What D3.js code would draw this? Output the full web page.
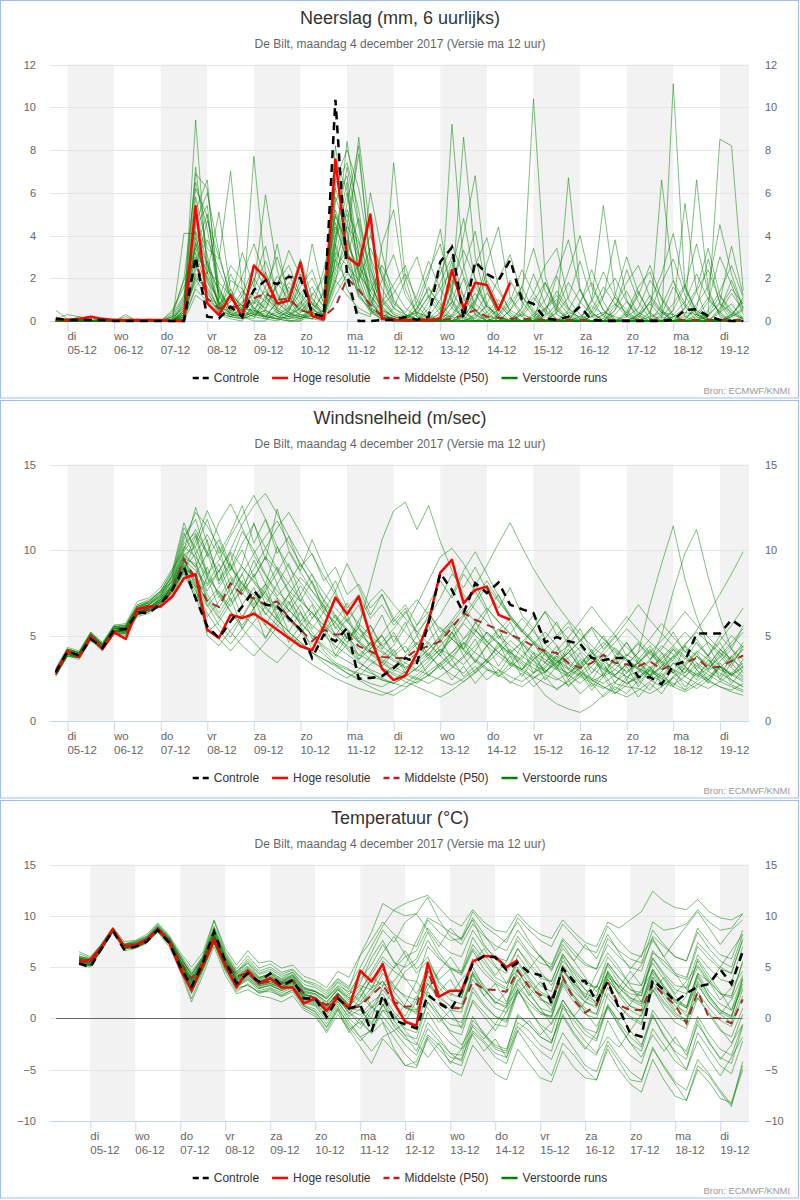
<!DOCTYPE html>
<html>
<head>
<meta charset="utf-8">
<title>Pluimen De Bilt</title>
<script src="https://cdn.jsdelivr.net/npm/d3@7"></script>
<style>
  body { margin: 0; background: #fff; }
  svg { display: block; font-family: "Liberation Sans", Arial, sans-serif; }
</style>
</head>
<body>
<div id="chart"></div>
<script>

/**
 * Day labels on the x axis (one tick per day, 05-12 .. 19-12)
 */
var dayNames = ['di', 'wo', 'do', 'vr', 'za', 'zo', 'ma', 'di', 'wo', 'do', 'vr', 'za', 'zo', 'ma', 'di'];
var dayDates = ['05-12', '06-12', '07-12', '08-12', '09-12', '10-12', '11-12', '12-12', '13-12', '14-12', '15-12', '16-12', '17-12', '18-12', '19-12'];

/**
 * Time of every 6-hourly value, in days after 05-12 00:00
 */
var stepDays = d3.range(60).map(function(k) { return -0.25 + k * 0.25; });

var legendLabels = ['Controle', 'Hoge resolutie', 'Middelste (P50)', 'Verstoorde runs'];

// ---- Neerslag (mm, 6 uurlijks) ----
var precipControl = [0.1,0.05,0.05,0.05,0.05,0,0,0,0,0,0,0, 3.0,0.2,0.12,0.67,0.2,1.45,1.9,1.73,2.07,2.0,0.36,0.2, 10.35,2.1,0,0,0.05,
    0.05,0.2,0.05,0.2,2.77,3.44,0.12,2.77,2.2,1.9,2.85, 1.0,0.8,0.12,0.05,0.2,0.67,0.05,0,0,0, 0,0,0,0.05,0.51,0.55,0.23,0.05,0,0];
var precipHres = [0.1,0.05,0.1,0.2,0.1,0.05,0.05,0.05,0.05,0.05,0,0, 5.37,0.82,0.28,1.21,0.17,2.6,2.0,0.82,0.95,2.74,0.23,0.08,
    7.55,3.0,2.6,4.98,0.1, 0.05,0.05,0.05,0.05,0.1,2.38,0.59,1.79,1.68,0.51,1.79];
var precipMedian = [0.05,0.05,0.05,0.05,0.05,0,0,0,0,0,0,0.05, 2.8,1.06,0.6,0.67,0.67,1.06,1.29,0.98,1.06,0.51,0.36,0.2, 0.67,2.0,1.45,0.75,0.2,
    0.1,0.05,0.05,0.05,0.05,0.1,0.28,0.51,0.2,0.15,0.1, 0.1,0.08,0.05,0.05,0.05,0.05,0.05,0.05,0.05,0.05, 0.05,0.05,0.05,0.05,0.05,0.05,0.05,0.05,0.05,0.05];
var precipRuns = [
    [.1,0,.2,0,0,0,0,0,0,0, 0,.5,9.4,2.1,.8,1.2,.4,2.0,1.1,.6, .3,.9,.2,.1,5.6,6.8,3.1,1.4,.6,.2, 0,0,.4,1.8,3.0,1.1,.3,0,0,.5, 1.2,.4,0,0,.2,0,0,.3,1.1,.5, 0,0,.2,.8,1.7,.4,0,0,.2,.6],
    [.5,.1,0,0,0,0,0,0,0,0, .2,1.1,6.9,6.2,1.5,.5,.8,1.9,3.5,1.2, .4,.2,.6,.1,3.4,8.4,4.6,2.2,1.0,.3, .1,0,0,.2,.9,2.5,4.2,1.4,.3,0, 0,.2,.6,1.0,.3,0,0,0,0,.4, 1.6,2.3,.5,0,0,0,.3,1.2,.5,.1],
    [.1,.3,.2,.1,0,0,.2,0,0,0, 0,4.1,4.1,1.3,.6,2.2,1.1,.3,.5,1.8, 2.6,1.2,.4,.2,1.8,4.5,7.8,2.9,.7,.1, 0,.3,1.2,.5,0,0,0,.2,.8,.2, 0,0,.3,2.1,.6,.1,0,0,.5,1.4, .3,0,0,0,.1,.6,2.9,.8,0,0],
    [0,.1,0,0,0,0,0,.1,0,0, 0,.3,5.8,3.4,2.9,7.0,1.5,.6,.2,.4, 1.2,2.9,1.1,.2,6.4,7.4,5.2,1.9,.4,7.4, 2.0,.2,0,0,0,.5,1.3,.4,0,0, .3,.1,0,0,0,.8,2.4,.9,0,0, 0,.2,.4,.3,0,0,0,0,.3,1.0],
    [0,0,.1,0,.1,0,0,0,0,0, .1,1.0,3.4,5.0,1.2,.3,.2,7.7,2.2,.5, .2,.1,.3,1.4,2.5,3.3,8.6,4.1,2.0,.6, .2,0,0,0,1.3,8.6,3.0,.8,.1,0, 0,0,0,0,.5,1.5,.4,0,0,0, 0,0,6.6,1.9,.2,0,0,.4,.8,.1],
    [0,0,0,.2,0,0,0,0,0,0, 0,.6,7.2,2.8,.5,.9,3.2,1.6,5.9,2.4, .6,.3,.1,0,1.2,2.2,1.8,6.0,3.2,.9, .3,0,0,.1,9.2,2.6,.5,0,.6,1.9, .9,.2,0,0,0,0,.2,1.1,3.8,1.0, 0,0,0,0,.2,.5,.1,0,0,0],
    [0,0,0,0,0,.1,0,0,0,0, 0,.2,4.6,6.0,3.2,1.0,.5,.3,.9,3.6, 1.0,.2,.1,.5,3.6,1.5,.4,.2,3.6,5.2, 1.5,.3,0,0,.2,1.0,.5,0,0,0, .6,10.4,2.1,.3,0,0,0,0,0,0, .1,.9,.4,0,0,0,.2,.9,3.5,1.2],
    [0,0,.1,0,0,0,.3,0,0,0, 0,.4,2.1,1.4,.3,.1,0,.8,2.3,.9, .3,.6,3.6,1.2,8.2,4.0,1.6,.5,.2,0, 0,.6,2.1,4.3,1.0,0,0,0,0,0, 0,0,0,.4,6.7,1.5,.2,0,0,0, 0,0,.3,1.6,.7,0,0,0,0,0],
    [0,0,0,0,0,0,0,0,.1,0, .5,1.6,3.0,2.4,1.8,1.2,.7,.4,.2,.1, .5,1.3,2.0,.9,7.5,6.1,2.3,.8,.3,.1, 0,0,0,0,1.4,4.0,6.8,1.6,.2,0, 0,0,.6,1.2,.5,0,0,0,0,.2, 1.4,.3,0,11.1,1.6,.3,0,0,0,0],
    [0,.1,0,0,0,0,0,0,0,0, 0,.8,6.2,4.9,1.6,.4,.2,.1,1.2,.4, 0,0,.6,2.4,4.9,3.6,2.5,1.8,.5,.2, .1,.4,.2,0,0,0,.8,2.7,4.4,1.1, .2,0,0,0,0,0,1.0,5.4,1.3,.2, 0,0,0,0,0,.3,1.1,.4,0,0],
    [.2,0,0,0,0,0,0,0,0,0, 0,.1,1.5,.9,.4,1.9,1.5,.6,.2,.9, 2.2,1.0,.3,.1,6.6,8.0,6.2,3.0,1.5,.6, .3,.1,0,0,0,.2,0,0,0,0, 0,0,0,0,.4,.2,0,0,0,0, 0,0,0,.5,5.5,1.4,0,0,0,.2],
    [0,0,0,0,0,0,0,0,0,0, .3,1.2,4.4,5.4,.8,.2,.1,.3,.5,.2, .1,.4,.8,.2,2.8,4.4,3.7,1.0,.1,0, 0,0,.9,2.6,.8,.1,0,0,0,0, 0,0,1.8,.6,0,0,0,0,0,0, 0,0,0,0,.6,6.6,1.5,.2,0,0],
    [0,0,0,0,0,0,0,0,0,0, 0,.2,3.9,2.2,5.1,1.4,.2,0,0,.6, 1.6,.8,.2,0,3.0,5.5,8.2,2.6,.3,0, 0,0,0,0,0,0,.3,1.3,.5,0, 0,0,0,0,0,0,0,0,.5,2.4, .9,.1,0,0,0,.2,.9,3.0,1.7,.3],
    [.1,0,0,0,0,0,0,0,0,0, 0,.5,5.2,6.6,.9,.5,1.4,.5,.1,0, .3,.2,.1,.4,1.9,1.2,.6,.3,.9,1.7, 2.6,.7,.1,0,.6,2.0,.3,0,0,0, 0,0,0,0,0,0,0,0,0,0, 0,0,0,0,0,.1,.4,8.5,8.2,1.4],
    [0,0,0,0,0,0,0,0,0,0, 0,.3,2.6,1.1,.5,.3,.9,1.2,.5,.2, .4,1.9,1.0,.5,5.0,3.2,2.4,1.2,.5,.2, .1,0,0,0,0,0,0,.4,1.0,.3, 0,0,0,0,0,.9,1.8,.5,0,0, 0,0,0,0,0,0,0,.5,1.9,.6],
    [0,0,0,0,0,0,0,0,0,0, .2,2.0,6.5,4.3,1.2,.3,.1,.5,.2,.1, 0,0,.3,.5,4.1,7.2,4.4,1.1,.2,0, 0,0,.2,1.0,2.8,.6,0,0,.2,.8, 1.6,.5,0,0,0,0,0,0,0,0, .3,.8,.2,0,0,0,0,0,0,0],
    [0,0,.1,0,0,0,0,0,0,0, 0,.4,4.9,2.6,.7,1.5,.5,.2,.1,.3, .6,2.2,.8,.3,3.9,6.5,2.0,.5,0,0, .2,.5,1.6,.6,.1,0,0,0,.3,1.1, .4,0,0,0,0,0,0,0,0,0, 0,0,0,0,0,0,0,0,.3,.9],
    [0,0,0,0,0,0,0,0,0,0, 0,.1,2.2,1.6,.6,.2,.4,.9,.4,.2, .1,.2,.5,.3,4.6,2.8,1.1,.6,.2,.1, 0,0,0,.2,.9,.4,0,0,0,0, .6,2.2,.8,0,0,0,0,0,.3,.9, .2,0,0,0,0,0,0,0,0,0],
    [0,0,0,0,0,0,0,0,0,0, 0,.1,3.7,1.9,.4,.2,.6,.5,.3,.1, 0,.1,.4,.2,5.8,4.2,1.7,.6,.3,.1, 0,0,0,0,0,0,0,0,0,0, 0,0,0,0,0,0,0,0,0,0, 0,0,0,0,0,0,0,0,0,0],
    [0,0,0,0,0,0,0,0,0,0, 0,0,1.2,.8,.3,.2,.1,.3,.2,.1, .2,.3,.2,.1,1.6,2.4,1.3,.4,.1,0, 0,0,.1,.3,.2,0,0,0,0,0, 0,0,0,0,0,0,.2,.4,.2,0, 0,0,0,.2,.4,.3,.1,0,0,0],
    [0,0,0,0,0,0,0,0,0,0, .1,.7,2.9,3.8,2.4,1.1,.6,1.5,2.8,1.3, .5,1.6,2.4,.8,3.2,2.6,1.9,3.4,2.1,.8, .4,1.2,2.8,1.5,.6,.2,1.0,2.2,1.4,.5, .2,.9,1.8,.7,.1,0,.5,1.6,.8,.2, .6,1.9,1.1,.3,.9,2.2,1.0,.4,1.3,.5],
    [0,0,0,0,0,0,0,0,0,0, 0,.4,3.6,1.8,1.0,2.6,1.9,.8,1.4,.7, 1.1,.4,1.2,2.0,4.4,3.0,1.4,.8,1.9,3.1, 1.2,.4,.1,.6,1.7,3.3,2.0,.7,.2,0, .4,1.3,2.6,3.4,1.0,.3,0,0,.7,1.8, 2.6,1.1,.4,0,.3,1.4,2.4,.9,.2,.5],
    [0,0,0,0,.1,0,0,0,0,0, 0,.9,5.0,3.1,.7,.4,1.2,2.6,1.5,.5, .2,.8,1.6,.6,2.4,5.2,3.8,2.0,.9,.3, .1,.9,2.3,3.6,1.4,.4,.1,.8,2.0,3.1, 1.2,.3,0,.4,1.1,2.8,1.0,.2,0,0, .3,1.2,.5,.1,0,.8,1.6,4.5,2.2,.6],
    [0,0,0,0,0,0,0,0,0,0, .2,.6,1.8,2.8,1.3,.5,.2,.6,1.0,2.1, 1.4,.6,.2,.3,2.2,3.8,2.2,1.4,2.6,1.5, .6,.2,0,0,.3,1.1,2.6,3.9,1.6,.4, 0,0,.5,1.4,.6,.1,.9,2.3,1.1,.3, 0,.4,1.8,2.9,1.2,.3,0,.6,1.5,.8],
    [0,0,0,0,0,0,0,0,0,0, 0,.2,2.4,4.7,3.0,1.2,.4,.2,.8,1.6, 3.3,2.1,.8,.4,5.2,3.4,1.2,.5,.1,.6, 1.9,3.0,1.1,.3,0,0,.2,.7,.3,.9, 2.4,1.3,.5,.1,0,0,.4,1.2,2.0,.9, .4,.1,0,.5,1.6,3.6,1.3,.3,0,0],
    [0,0,0,0,0,0,0,0,0,0, 0,.3,3.2,1.5,.6,.9,2.1,3.6,2.0,.9, .4,.1,.5,1.3,6.2,4.6,2.7,1.2,.4,.1, 0,0,.6,1.5,2.4,4.8,1.9,.6,.1,0, 0,.3,1.0,2.2,3.8,1.4,.4,0,0,.3, 1.2,2.6,1.0,.2,0,0,.5,1.4,2.6,1.1],
    [0,0,0,0,0,0,0,0,0,0, 0,.5,4.2,2.6,1.4,.6,.3,1.0,.6,1.8, 1.0,.5,.9,.4,2.9,1.8,2.6,4.0,2.3,1.0, .3,.1,0,.4,1.9,1.2,.5,.1,0,.5, 1.6,3.4,1.4,.5,.1,0,0,.3,.8,.4, 0,0,.7,1.9,.8,.2,0,0,.2,1.1],
    [0,0,0,0,0,0,0,0,0,0, 0,.2,2.0,1.0,.5,1.3,.7,.3,.2,.9, 1.8,1.3,.6,.2,3.6,6.0,3.2,1.6,.7,1.3, 2.2,1.0,.3,0,0,.2,.9,1.9,.8,.2, 0,0,0,.6,1.8,.9,.3,.1,1.2,3.0, 1.3,.4,0,0,0,0,.3,.8,.4,.1],
    [0,0,0,0,0,0,0,0,0,0, .4,1.9,3.4,2.0,.9,.3,.5,1.4,.9,.4, .2,.6,1.3,.7,4.0,5.0,3.0,.9,.2,0, .1,.6,1.5,.8,.2,.6,1.6,.7,.2,0, .3,1.1,.4,0,0,.2,.7,.3,0,0, .2,.9,2.2,4.1,1.5,.5,.1,0,0,0],
    [0,0,0,0,0,0,0,0,0,0, 0,.1,1.6,2.3,.8,.3,.2,.4,1.6,3.0, 1.2,.5,.3,.2,2.0,3.1,4.8,2.4,1.1,.4, .2,.4,1.1,2.2,3.6,2.1,.8,.3,0,0, 0,0,.2,.8,2.3,4.0,1.6,.5,.1,0, 0,0,0,.2,.6,1.5,3.4,1.2,.3,.1]
];

// ---- Windsnelheid (m/sec) ----
var windControl = [2.85,4.08,3.83,4.8,4.27,5.34,5.38,6.35,6.31,6.85,7.67,8.99, 7.18,5.53,4.85,5.83,6.7,7.63,6.8,6.7,6.02,5.34,
    3.69,5.05,4.66,5.44,2.47,2.52,2.62,3.1, 3.69,3.4,5.73,8.64,7.67,6.31,8.06,7.48,8.1,6.8,
    6.54,6.31,4.6,4.91,4.66,4.52,3.69,3.55,3.69,3.69, 2.58,2.56,2.14,3.24,3.5,5.11,5.11,5.11,5.92,5.44];
var windHres = [2.78,4.08,3.75,4.95,4.21,5.18,4.8,6.54,6.7,6.7,7.28,8.35, 8.58,5.34,4.85,6.21,6.02,6.27,5.83,5.34,4.85,4.37,
    4.14,5.53,7.22,6.25,7.28,4.95,3.05,2.39, 2.66,3.98,5.83,8.68,9.42,6.89,7.67,7.86,6.21,5.92];
var windMedian = [2.97,4.0,3.8,4.85,4.33,5.24,5.34,6.31,6.5,6.7,7.67,9.46, 8.29,6.99,6.66,8.06,7.38,7.18,6.8,6.99,6.02,5.34,
    4.66,5.34,5.05,5.11,4.37,4.08,3.75,3.69, 3.69,4.17,4.37,4.66,5.44,6.31,5.92,5.63,5.34,5.05,
    4.76,4.37,4.08,3.98,3.4,3.11,3.4,3.88,3.4,3.3, 3.2,3.5,3.01,3.3,3.4,3.69,3.11,3.17,3.5,3.83];
var windRuns = [
    [2.9,4.1,3.9,5.0,4.4,5.5,5.6,6.8,7.1,7.6,8.4,10.4, 11.0,8.6,9.4,10.8,12.0,13.2,11.8,10.2,9.0,8.1, 7.2,6.3,5.8,6.9,5.4,4.8,4.1,3.6, 3.2,2.9,3.5,4.2,3.8,3.3,4.1,5.2,4.6,3.9, 3.4,2.8,3.2,3.9,4.4,3.7,3.1,2.6,3.0,3.8, 4.5,3.9,3.3,2.8,3.4,4.1,3.6,3.0,2.7,3.2],
    [2.7,3.9,3.7,4.8,4.2,5.2,5.1,6.2,6.4,6.9,7.9,9.6, 7.8,5.2,5.8,6.9,7.6,8.4,9.6,8.8,7.5,6.4, 5.2,4.1,3.4,3.1,2.6,3.3,3.8,4.4, 5.5,6.8,8.2,9.6,10.1,9.2,8.0,6.6,5.8,5.1, 4.6,4.0,3.6,3.1,2.8,3.4,4.0,3.5,3.0,2.6, 2.9,3.6,4.4,3.9,3.2,2.7,3.3,4.1,5.0,4.3],
    [3.0,4.2,4.0,5.1,4.5,5.4,5.4,6.6,6.9,7.3,8.6,11.0, 9.4,7.0,7.8,8.9,10.4,11.5,10.1,8.9,7.6,7.0, 6.3,5.6,4.9,4.2,3.5,2.9,2.4,2.2, 2.6,3.1,3.9,4.8,5.6,6.2,5.3,4.7,4.0,3.4, 3.0,3.6,4.2,4.9,5.5,4.8,4.0,3.2,2.6,2.2, 2.5,3.0,3.6,4.3,3.7,3.0,2.4,2.0,1.8,2.2],
    [2.8,4.0,3.8,4.9,4.3,5.3,5.2,6.4,6.5,7.0,7.8,9.0, 8.4,6.8,5.6,4.9,6.1,7.3,8.0,7.2,6.5,5.8, 5.0,4.3,3.7,4.5,5.9,7.0,7.7,6.8, 6.0,5.2,4.5,3.8,3.2,2.8,3.5,4.4,5.3,6.0, 5.2,4.6,3.9,3.3,2.7,2.2,2.8,3.5,4.3,3.6, 3.0,2.4,2.0,2.6,3.3,4.0,4.6,3.8,3.1,2.5],
    [2.6,3.8,3.6,4.7,4.1,5.1,5.0,6.1,6.3,6.8,7.6,8.8, 10.5,12.3,10.8,9.1,8.0,7.4,6.6,5.9,5.2,4.6, 4.0,3.4,2.9,2.5,3.0,3.8,4.6,5.4, 6.3,7.1,6.2,5.4,4.8,4.1,3.5,3.0,2.6,3.1, 3.8,4.5,5.2,4.4,3.6,2.9,2.4,2.0,1.6,2.1, 2.8,3.5,5.0,7.6,9.8,11.2,8.4,6.1,4.2,3.2],
    [3.1,4.3,4.1,5.2,4.6,5.6,5.7,7.0,7.2,7.8,8.9,10.0, 12.5,10.4,8.2,9.3,11.1,10.0,8.6,7.3,8.1,9.2, 8.0,6.7,5.5,4.6,5.5,8.0,10.6,12.3, 12.8,11.2,12.6,10.5,8.8,7.4,6.5,5.8,5.0,4.4, 3.8,3.3,2.9,3.4,4.0,4.7,5.5,4.8,4.1,3.6, 3.1,2.7,3.2,3.8,4.5,5.2,4.6,4.0,3.5,4.2],
    [2.8,3.9,3.8,5.0,4.2,5.2,5.3,6.3,6.6,7.1,7.9,9.4, 8.1,5.0,4.4,5.3,6.2,5.6,4.9,5.8,6.8,7.9, 6.9,5.8,5.1,4.3,3.6,4.2,5.1,6.0, 5.2,4.5,3.8,3.2,2.7,2.3,2.8,3.4,4.0,4.7, 4.1,3.5,3.0,2.5,2.1,2.6,3.2,3.9,4.6,5.4, 4.7,4.0,3.4,2.8,2.3,1.9,2.4,3.1,3.8,4.4],
    [2.9,4.1,3.9,5.1,4.4,5.4,5.5,6.7,6.9,7.5,8.2,9.9, 10.9,9.8,11.6,12.7,11.3,9.7,8.5,7.6,6.9,6.2, 5.6,5.0,4.4,3.9,3.4,3.0,2.7,3.2, 3.8,4.5,5.3,6.2,7.4,8.8,9.9,8.6,7.3,6.2, 5.3,4.5,3.8,3.2,3.7,4.3,3.7,3.1,2.7,3.3, 4.0,4.8,5.7,4.9,4.1,3.4,2.9,3.5,4.2,3.6],
    [2.7,3.8,3.7,4.8,4.2,5.1,5.1,6.2,6.4,6.7,7.4,8.7, 7.4,6.1,7.0,8.1,9.0,8.2,7.4,6.6,5.9,5.2, 4.5,3.9,3.3,2.8,2.4,2.0,1.7,1.5, 1.9,2.5,3.2,4.0,4.9,5.8,6.9,7.9,7.0,6.1, 5.4,4.7,4.1,3.6,3.1,2.7,2.3,2.7,3.3,3.9, 3.4,2.9,2.5,2.1,2.6,3.2,3.9,4.7,5.6,6.6],
    [3.0,4.1,4.0,5.0,4.5,5.5,5.4,6.5,6.8,7.2,8.1,9.7, 9.0,7.4,6.3,7.4,8.6,9.8,10.8,11.7,10.4,9.2, 8.1,7.1,6.2,5.4,4.7,4.1,3.6,3.2, 2.8,2.5,2.2,2.6,3.1,3.7,4.4,5.2,4.5,3.9, 4.6,5.4,6.4,5.6,4.8,4.1,3.5,3.0,2.6,2.2, 2.6,3.1,3.7,4.4,5.2,4.5,3.8,3.2,2.7,2.3],
    [2.8,4.0,3.9,4.9,4.3,5.3,5.4,6.5,6.6,7.2,8.0,9.4, 8.8,7.9,8.8,9.9,9.0,8.1,7.2,6.5,7.4,8.4, 7.6,6.8,6.0,5.3,4.6,4.0,3.5,3.0, 2.7,2.4,2.9,3.4,4.0,4.6,4.0,3.5,3.0,2.6, 2.3,2.8,3.4,4.1,4.9,5.8,6.7,5.8,5.0,4.3, 3.7,3.1,2.6,2.2,1.8,2.3,2.9,2.5,2.1,1.8],
    [2.7,3.9,3.8,4.8,4.2,5.2,5.3,6.3,6.6,7.0,7.7,8.6, 7.2,5.6,4.8,4.1,4.9,5.8,6.7,5.9,5.2,4.6, 4.0,3.6,3.2,2.8,2.5,2.2,2.0,2.4, 2.9,3.5,4.2,5.0,5.9,6.8,7.9,9.1,10.4,11.6, 10.2,8.9,7.8,6.8,5.9,5.1,4.4,3.8,3.3,2.9, 3.4,4.0,4.7,5.5,6.4,5.6,4.9,4.2,3.6,3.1],
    [2.9,4.1,3.9,5.0,4.4,5.4,5.4,6.6,6.8,7.4,8.3,10.2, 9.6,8.4,7.5,6.7,7.8,8.9,10.1,11.3,12.2,11.0, 9.7,8.5,7.4,6.5,5.7,5.0,4.4,3.8, 3.4,3.0,2.7,2.4,2.1,2.5,3.0,3.6,4.3,5.1, 6.0,5.2,4.5,3.9,3.4,2.9,2.5,2.2,2.7,3.3, 4.0,6.8,9.2,11.4,8.3,6.1,4.4,3.2,2.7,3.1],
    [2.8,4.0,3.8,4.9,4.3,5.2,5.3,6.4,6.7,7.1,7.8,9.1, 8.0,6.7,7.6,6.4,5.4,4.6,3.9,3.4,4.2,5.1, 6.0,7.0,6.1,5.3,4.6,3.9,3.4,2.9, 3.4,4.0,4.7,5.5,4.8,4.2,3.6,3.1,2.7,2.3, 2.0,2.5,3.1,3.8,3.3,2.8,2.4,2.0,1.7,1.4, 1.8,2.3,2.9,3.6,4.4,5.3,6.3,7.4,8.6,9.9],
    [2.9,4.2,4.0,5.1,4.5,5.5,5.5,6.6,7.0,7.5,8.5,10.6, 12.2,11.4,10.2,9.0,8.0,7.1,6.3,5.6,5.0,4.5, 4.0,3.6,3.3,3.0,2.8,2.6,2.4,2.2, 2.0,2.3,2.7,3.2,3.8,4.5,5.3,4.6,4.0,3.5, 3.0,2.6,2.2,1.9,2.3,2.8,3.4,4.1,4.9,5.8, 6.8,5.9,5.1,4.4,3.8,3.2,2.7,2.3,2.0,1.7],
    [2.7,3.9,3.7,4.8,4.2,5.1,5.2,6.2,6.5,6.9,7.6,8.9, 9.8,10.9,9.6,8.5,7.5,6.6,7.6,8.7,9.9,8.7, 7.6,6.6,5.7,4.9,4.2,3.6,3.1,2.7, 2.3,2.0,1.7,1.4,1.8,2.3,2.9,3.6,4.4,3.8, 3.3,2.4,1.5,1.0,0.7,0.5,0.9,1.5,2.2,2.0, 1.9,1.6,2.0,2.5,3.1,2.7,2.3,2.0,1.7,1.5],
    [3.0,4.2,4.0,5.2,4.5,5.6,5.6,6.7,7.0,7.6,8.7,11.3, 10.1,8.6,7.4,6.4,5.6,6.6,7.8,9.0,8.0,7.1, 6.3,5.6,5.0,4.4,3.9,3.5,3.1,2.8, 2.5,2.2,2.7,3.3,4.0,4.8,5.7,6.6,5.8,5.1, 4.5,3.9,3.4,3.0,2.6,3.1,3.7,4.4,5.2,6.1, 5.3,4.6,4.0,3.5,3.0,2.6,3.1,3.7,4.4,5.2],
    [2.8,4.0,3.8,4.9,4.3,5.3,5.3,6.4,6.6,7.0,7.8,9.3, 8.5,7.2,6.1,5.2,4.4,3.8,4.6,5.5,6.5,5.7, 5.0,4.4,3.9,3.5,3.1,2.8,2.5,2.2, 2.6,3.1,3.7,4.4,5.2,6.1,7.1,8.2,7.1,6.1, 5.3,4.6,4.0,3.5,3.0,2.6,2.2,1.9,2.3,2.8, 3.4,4.1,3.5,3.0,2.6,2.2,1.9,2.3,2.8,3.4],
    [2.9,4.1,3.9,5.0,4.4,5.4,5.5,6.6,6.8,7.3,8.2,10.1, 11.2,9.9,8.7,10.0,11.5,12.6,13.3,12.1,10.8,9.6, 8.5,7.5,6.6,5.8,5.1,4.5,4.0,3.5, 3.1,3.6,4.2,4.9,5.7,6.6,5.8,5.1,4.5,4.0, 3.5,3.1,2.7,2.4,2.8,3.3,3.9,4.6,4.0,3.5, 3.0,2.6,3.1,3.7,4.4,3.8,3.3,2.8,2.4,2.0],
    [2.7,3.9,3.7,4.8,4.2,5.2,5.2,6.3,6.5,6.9,7.7,9.0, 7.6,6.3,5.3,4.5,5.4,6.4,5.6,4.9,4.3,3.8, 3.3,2.9,2.5,2.2,1.9,1.7,1.5,1.8, 2.2,2.7,3.3,4.0,4.8,5.7,5.0,4.4,3.8,3.3, 2.9,2.5,2.9,3.4,4.0,4.7,5.5,4.8,4.2,3.6, 3.1,2.7,2.3,2.0,1.7,2.1,2.6,3.2,2.8,2.4],
    [2.8,4.0,3.9,5.0,4.4,5.3,5.4,6.5,6.7,7.1,8.0,9.8, 9.0,10.6,8.2,9.8,7.6,9.4,8.0,10.2,8.6,7.0, 8.2,6.4,7.6,5.8,6.8,5.0,6.2,4.6, 5.8,4.2,5.6,4.0,5.2,3.8,4.8,3.4,4.6,3.2, 4.4,2.8,4.0,3.0,4.6,3.2,4.2,2.6,3.8,2.4, 3.6,2.6,4.0,2.8,4.4,3.0,3.8,2.4,3.4,2.6],
    [2.9,4.1,3.8,4.9,4.3,5.4,5.3,6.4,6.6,7.2,7.9,9.3, 10.8,8.4,10.2,7.8,9.2,11.6,9.4,12.4,10.0,8.8, 10.6,9.0,7.6,9.2,7.8,6.2,7.4,5.8, 6.6,5.0,6.2,4.6,5.6,4.2,5.2,6.4,4.8,5.8, 4.4,5.4,4.0,3.2,4.2,3.0,3.8,2.8,3.6,4.6, 3.4,4.2,3.0,3.8,2.6,3.4,2.4,3.2,2.2,3.0],
    [2.7,3.9,3.7,4.8,4.2,5.2,5.2,6.3,6.5,7.0,7.8,9.1, 7.0,8.4,6.6,7.8,6.0,7.2,5.6,6.8,5.2,6.4, 4.8,5.6,4.2,5.2,3.8,4.6,3.4,4.2, 3.0,3.8,2.6,3.4,2.4,3.2,2.2,3.0,2.8,3.8, 2.6,3.6,2.4,3.2,2.0,2.8,1.8,2.6,1.6,2.4, 1.4,2.2,1.6,2.6,1.8,3.0,2.2,3.2,2.4,2.0],
    [3.0,4.2,4.0,5.1,4.5,5.5,5.5,6.7,6.9,7.4,8.5,10.8, 11.8,9.6,10.6,8.8,10.0,8.4,9.6,8.0,9.2,7.4, 8.6,7.0,8.2,6.6,7.4,6.0,6.8,5.6, 6.4,5.2,6.0,7.2,8.6,7.8,9.0,7.6,6.6,7.8, 6.2,5.4,6.4,5.0,5.8,4.6,5.4,4.2,5.0,3.8, 4.6,3.6,4.2,5.2,4.0,4.8,3.8,4.6,3.4,4.2],
    [2.8,4.0,3.8,4.9,4.3,5.3,5.2,6.4,6.6,7.1,7.7,9.2, 8.2,7.0,6.0,7.2,5.4,6.6,4.8,6.2,4.6,5.6, 4.2,5.4,3.8,5.0,3.6,4.6,3.2,4.0, 2.8,3.6,4.6,3.8,5.2,4.2,5.8,4.6,5.4,4.0, 3.6,4.6,3.4,4.4,3.0,4.0,2.8,3.8,2.6,3.4, 2.4,3.2,2.2,3.0,2.0,2.8,2.4,3.4,2.6,3.6],
    [2.9,4.1,3.9,5.0,4.4,5.4,5.5,6.6,6.8,7.3,8.2,9.7, 10.2,11.8,9.8,11.0,12.6,10.4,11.8,9.8,10.8,9.0, 9.8,8.2,9.0,7.4,8.0,6.6,7.4,6.0, 6.8,5.6,6.4,5.2,5.8,4.8,5.4,4.4,5.0,4.0, 4.6,3.6,4.2,3.4,4.0,3.2,3.8,3.0,3.6,2.8, 3.4,2.6,3.2,4.2,3.6,4.6,3.8,5.0,4.2,5.6],
    [2.7,3.8,3.7,4.8,4.2,5.1,5.1,6.2,6.4,6.8,7.5,8.8, 8.6,9.8,8.0,9.2,7.4,8.6,6.8,8.0,6.4,7.4, 6.0,6.8,5.4,6.2,4.8,5.6,4.4,5.0, 4.0,4.6,3.6,4.2,3.2,3.8,2.8,3.6,2.6,3.4, 3.0,3.8,2.8,3.6,2.4,3.2,2.0,2.8,1.8,2.6, 2.2,3.0,2.6,3.4,2.8,3.8,3.0,4.0,3.2,4.4],
    [2.8,4.0,3.8,4.9,4.3,5.3,5.3,6.4,6.6,7.0,7.9,9.5, 9.2,7.6,8.8,7.0,8.2,6.6,7.6,6.0,7.0,5.6, 6.4,5.2,5.8,4.8,5.4,4.4,5.0,4.0, 4.6,5.6,6.8,8.2,7.2,8.6,7.6,6.4,7.4,6.0, 5.2,6.2,4.8,5.8,4.4,5.4,4.0,5.0,3.8,4.6, 3.6,4.4,3.4,4.2,3.2,4.0,3.0,3.8,4.6,5.4],
    [2.9,4.2,4.0,5.1,4.5,5.5,5.6,6.8,7.0,7.6,8.8,11.6, 9.8,8.0,9.2,7.4,8.6,6.8,8.0,6.2,7.4,5.8, 6.8,5.2,6.2,4.8,5.6,4.2,5.0,3.8, 4.4,3.4,4.0,3.0,3.6,2.6,3.2,2.4,3.0,2.2, 2.8,2.0,2.6,1.8,2.4,1.6,2.2,1.4,2.0,1.6, 2.4,1.8,2.8,2.0,3.2,2.4,3.6,2.6,3.8,2.8],
    [2.7,3.9,3.7,4.8,4.2,5.2,5.3,6.3,6.5,6.9,7.6,8.9, 7.8,9.0,7.2,8.4,6.8,7.8,6.2,7.2,5.8,6.8, 5.4,6.4,5.0,6.0,4.6,5.6,4.2,5.2, 4.0,5.0,3.8,4.8,3.6,4.6,3.4,4.4,3.2,4.2, 3.0,4.0,2.8,3.8,2.6,3.6,2.4,3.4,2.2,3.2, 2.0,3.0,2.4,3.4,2.8,3.8,3.2,4.2,3.6,4.6]
];

// ---- Temperatuur (°C) ----
var tempControl = [5.37,4.98,6.83,8.55,6.73,6.99,7.48,8.62,7.38,5.04,3.09,5.37, 8.46,5.53,3.41,4.39,3.58,4.39,3.15,3.74,1.95,1.95,
    0.16,1.95,0.98,1.3,-1.3,2.28,-0.16,-0.59, -0.98,2.28,1.46,0.81,2.6,5.37,6.08,5.95,4.72,5.43,
    4.46,4.23,1.46,4.88,3.58,3.67,1.63,3.58,0.98,-1.46, -1.79,3.74,2.76,1.63,2.44,3.09,3.35,4.78,3.35,6.5];
var tempHres = [5.53,5.69,6.99,8.68,6.99,7.15,7.64,8.72,7.48,4.78,2.76,5.2, 7.64,5.2,3.02,4.65,3.41,3.9,3.02,3.02,1.46,1.95,
    0.75,2.05,0.98,4.65,3.58,5.3,1.5,-0.33, -0.72,5.37,2.11,2.7,2.7,5.53,6.08,6.02,4.98,5.69];
var tempMedian = [5.69,5.37,6.83,8.62,6.99,7.06,7.58,8.68,7.58,5.53,3.9,5.37, 7.9,5.53,4.07,4.46,3.41,3.58,3.41,3.74,2.44,1.95,
    1.3,2.28,0.88,1.2,2.28,3.25,1.6,1.14, 1.2,4.65,1.53,0.98,0.98,3.58,2.83,2.76,2.6,4.65,
    3.09,2.28,1.95,4.07,1.79,0.55,1.3,3.58,1.3,0.81, 0.81,3.41,2.28,1.3,-0.49,2.6,0.1,0,-0.49,1.85];
var tempRuns = [
    [5.9,5.6,7.0,8.8,7.2,7.3,7.8,8.9,7.8,5.9,4.4,5.8,8.6,6.0,4.6,5.4,4.0,4.4,3.9,4.5,3.0,2.6,2.1,3.5, 2.4,3.2,2.8,5.6, 4.6,3.8,3.6,7.0, 5.8,4.9,4.6,7.9, 6.2,5.0,4.4,6.8, 5.1,3.9,3.6,6.3, 4.6,3.3,3.0,5.4, 3.9,2.8,2.5,5.9, 4.4,3.2,3.0,6.2, 4.9,3.8,3.5,7.0],
    [5.4,5.2,6.7,8.5,6.8,6.9,7.4,8.5,7.3,5.0,2.8,4.8,7.4,4.8,3.0,3.2,2.6,2.6,2.2,2.8,1.2,0.6,-0.8,1.0, -0.6,-1.8,-1.2,1.4, -0.8,-2.0,-2.6,0.6, -1.2,-2.4,-3.0,0.2, -1.6,-3.0,-3.4,-0.4, -1.2,-2.6,-3.2,0.4, -1.4,-2.8,-3.6,-0.2, -2.2,-3.6,-4.4,-1.0, -2.6,-4.2,-5.0,-1.4, -3.0,-4.6,-5.4,-2.2],
    [6.3,5.9,7.3,8.9,7.5,7.6,8.2,9.3,8.1,6.4,5.0,6.4,9.6,6.8,5.2,6.6,5.4,5.6,4.9,5.2,4.1,3.7,3.0,4.6, 4.0,6.2,8.4,11.2, 10.5,10.0,10.2,11.8, 9.6,8.0,7.2,9.2, 8.0,7.1,6.6,8.6, 7.2,6.0,5.2,7.8, 6.6,5.4,4.8,7.2, 6.0,5.0,4.6,8.0, 7.0,6.0,5.6,8.8, 7.4,6.2,5.8,8.6],
    [5.5,5.1,6.6,8.4,6.6,6.8,7.3,8.4,7.0,4.6,1.6,4.2,7.0,4.2,2.4,2.8,2.2,2.0,1.6,2.2,0.8,0.2,-1.4,0.4, -1.1,-2.8,-4.4,-2.0, -3.2,-4.6,-4.8,-1.8, -3.0,-4.2,-4.6,-1.4, -2.4,-3.8,-4.4,-1.2, -2.8,-4.4,-5.6,-2.4, -3.6,-5.0,-6.0,-2.6, -4.2,-6.0,-6.2,-2.8, -4.8,-6.4,-8.0,-4.6, -5.6,-7.2,-8.6,-4.2],
    [5.9,5.7,7.0,8.7,7.1,7.3,7.7,8.8,7.7,5.6,3.8,5.7,8.3,5.8,4.0,4.8,3.8,4.2,3.5,4.1,2.6,2.4,1.6,2.9, 1.8,3.4,5.9,7.6, 5.4,5.0,5.8,8.4, 6.4,5.0,4.2,6.6, 4.8,3.6,3.0,5.4, 3.8,2.4,1.8,4.6, 3.2,2.0,1.4,4.2, 2.6,1.2,0.8,4.0, 2.8,1.6,1.0,4.4, 3.6,2.4,2.0,5.6],
    [5.2,5.0,6.7,8.5,6.9,7.0,7.5,8.6,7.4,5.0,2.8,5.0,7.7,5.1,3.3,4.0,3.1,3.4,2.9,3.4,1.8,1.5,0.4,1.8, 0.6,-0.2,-1.4,0.8, -0.6,-1.6,-2.0,1.6, 0.4,-0.6,-0.8,2.6, 1.2,0.2,-0.2,3.0, 1.8,0.6,0.0,3.4, 2.0,0.8,0.4,3.8, 2.4,1.2,0.6,2.8, 1.0,-0.4,-1.0,2.0, 0.4,-1.2,-1.8,1.0],
    [5.7,5.6,7.0,8.6,7.0,7.1,7.6,8.7,7.6,5.4,3.5,5.4,8.1,5.6,3.8,4.6,3.6,4.0,3.3,3.8,2.3,2.1,1.2,2.5, 1.3,2.1,3.8,4.8, 2.6,1.2,0.4,3.4, 1.8,0.8,0.6,4.6, 3.2,2.0,1.4,5.0, 3.4,2.0,1.2,4.8, 3.0,1.6,1.0,4.4, 2.2,0.8,0.2,3.6, 2.0,0.6,-0.2,3.2, 1.6,0.4,-0.4,2.8],
    [6.5,6.0,7.2,8.8,7.2,7.5,8.0,9.2,8.0,6.1,4.3,6.1,9.0,6.4,4.5,5.8,4.6,5.0,4.3,4.7,3.6,3.2,2.5,3.8, 2.9,6.1,7.6,9.4, 8.2,7.4,7.0,9.6, 8.4,7.6,7.8,10.4, 9.0,8.2,7.4,9.8, 8.6,7.6,7.0,9.2, 8.0,6.8,6.4,9.0, 7.6,6.4,6.0,9.4, 8.6,8.8,9.2,10.6, 9.4,8.6,8.8,10.2],
    [5.3,5.2,6.7,8.5,6.9,7.0,7.4,8.6,7.3,5.1,2.6,4.9,7.5,5.0,3.2,3.9,2.9,3.3,2.7,3.2,1.6,1.3,0.0,1.6, 0.2,0.9,-0.6,1.4, -0.2,-1.7,-3.2,-0.4, -1.8,-3.4,-4.2,-0.6, -1.6,-2.6,-3.0,0.2, -0.6,-1.8,-2.4,1.2, 0.2,-1.0,-1.4,2.4, 1.2,0.2,-0.4,3.2, 1.6,0.4,-0.2,3.6, 2.0,0.6,0.0,3.8],
    [5.6,5.5,6.9,8.6,7.0,7.2,7.6,8.7,7.5,5.3,3.1,5.2,7.9,5.4,3.6,4.4,3.4,3.7,3.2,3.6,2.1,1.8,0.8,2.2, 1.0,1.4,2.3,4.4, 3.0,2.2,1.8,5.4, 3.6,2.4,2.0,5.8, 4.4,3.4,2.8,6.2, 4.6,3.2,2.6,6.0, 4.0,2.8,2.2,5.2, 3.4,2.0,1.6,4.8, 3.2,1.8,1.2,4.4, 2.6,1.4,0.8,4.0],
    [5.9,5.7,7.0,8.7,7.1,7.2,7.8,8.9,7.7,5.7,3.9,5.8,8.5,5.9,4.1,5.0,3.9,4.4,3.6,4.2,2.8,2.6,1.9,3.0, 2.0,1.1,0.0,3.2, 3.6,5.2,7.6,9.8, 9.2,8.4,7.8,9.6, 7.2,5.8,4.8,6.8, 5.4,4.2,3.6,6.2, 4.8,3.6,3.0,6.0, 4.6,3.4,3.2,6.6, 5.2,4.2,3.8,7.0, 5.8,4.8,4.4,7.8],
    [5.4,5.3,6.8,8.5,6.8,7.0,7.5,8.5,7.3,5.0,2.4,4.8,7.4,4.8,2.8,3.3,2.5,2.9,2.3,2.8,1.2,0.7,-0.9,0.9, -1.1,-0.3,-1.5,-0.4, -3.0,-4.6,-4.2,-1.6, -2.6,-3.8,-4.0,-1.2, -2.2,-3.4,-3.8,-0.8, -2.0,-3.2,-4.0,-1.4, -3.0,-4.6,-5.2,-2.2, -3.8,-5.2,-6.0,-3.0, -4.6,-6.2,-7.0,-4.0, -5.4,-7.0,-8.4,-5.0],
    [5.8,5.6,7.0,8.7,7.1,7.2,7.7,8.8,7.7,5.5,3.6,5.6,8.2,5.7,3.9,4.9,3.9,4.1,3.5,3.9,2.5,2.3,1.4,2.8, 1.6,3.8,5.2,7.2, 5.6,3.9,2.4,4.6, 3.0,1.8,1.4,4.4, 2.8,1.6,1.0,3.8, 2.4,1.0,0.6,3.6, 2.2,1.0,0.4,4.0, 3.2,2.4,2.2,6.4, 5.6,4.4,4.0,7.4, 6.2,5.0,4.4,7.6],
    [5.5,5.4,6.8,8.5,6.9,7.0,7.5,8.6,7.4,5.2,3.0,5.1,7.8,5.3,3.4,4.2,3.2,3.5,3.0,3.5,1.9,1.6,0.6,2.0, 0.8,0.3,1.6,2.4, 0.6,-0.4,-0.8,2.6, 1.2,0.0,-0.4,3.0, 1.4,0.2,-0.4,2.8, 0.8,-0.6,-1.4,1.8, 0.2,-1.2,-2.0,1.4, -0.4,-1.8,-2.8,0.8, -0.8,-2.4,-3.2,0.2, -1.6,-3.0,-3.6,-0.6],
    [5.7,5.5,6.9,8.6,7.0,7.2,7.6,8.7,7.6,5.4,3.3,5.4,8.0,5.5,3.7,4.5,3.6,3.9,3.4,3.7,2.3,2.0,1.0,2.4, 1.2,2.8,4.3,6.0, 4.9,6.0,6.6,8.8, 7.4,6.4,6.0,8.6, 7.0,6.0,5.6,8.0, 6.4,5.4,5.0,7.6, 6.2,5.2,4.8,7.8, 6.6,5.8,5.4,8.6, 7.2,6.0,5.6,8.4, 6.8,5.6,5.0,8.2],
    [6.0,5.8,7.1,8.8,7.2,7.4,7.9,9.0,7.8,5.9,4.2,5.9,8.7,6.1,4.3,5.4,4.3,4.6,3.8,4.3,3.0,2.7,2.0,3.1, 2.2,4.6,3.0,3.6, 2.0,1.0,0.6,3.4, 2.2,1.2,1.0,4.2, 2.8,1.6,1.2,4.6, 3.0,1.8,1.4,4.8, 3.4,2.4,2.0,5.4, 4.0,2.8,2.2,5.8, 4.2,2.8,2.4,5.6, 3.8,2.4,2.2,5.4],
    [5.3,5.2,6.7,8.4,6.8,6.9,7.4,8.5,7.2,5.1,2.5,4.9,7.6,5.0,3.1,3.8,2.9,3.2,2.7,3.1,1.5,1.2,-0.2,1.4, -0.3,-1.8,-3.2,-1.8, -1.2,-2.6,-3.6,-1.0, -2.2,-3.4,-3.6,-0.2, -1.4,-2.8,-3.2,0.4, -0.6,-1.8,-2.4,1.0, -0.2,-1.6,-2.2,1.2, -0.8,-2.4,-3.2,0.4, -1.8,-3.2,-4.0,-0.2, -2.4,-3.8,-4.4,-0.8],
    [5.6,5.5,6.9,8.6,7.0,7.1,7.6,8.7,7.5,5.3,3.2,5.3,8.0,5.4,3.5,4.3,3.3,3.6,3.1,3.6,2.0,1.7,0.7,2.1, 0.9,0.8,-0.4,1.2, 2.8,4.6,5.4,7.6, 6.0,4.8,4.4,6.8, 5.4,4.0,3.4,5.6, 4.0,2.6,2.0,4.8, 3.4,2.2,1.6,4.6, 3.0,1.8,1.2,4.4, 2.6,1.2,0.6,4.0, 2.2,0.8,0.2,3.8],
    [6.1,5.8,7.2,8.8,7.3,7.5,8.0,9.1,7.9,6.2,4.6,6.0,9.5,6.5,4.8,6.1,4.9,5.3,4.5,4.8,3.7,3.4,2.7,3.9, 3.1,5.0,7.0,9.0, 10.6,11.2,11.6,12.0, 10.8,9.6,9.0,10.6, 9.4,8.6,8.4,10.2, 9.0,8.2,7.8,9.6, 8.4,7.4,7.0,9.4, 8.8,9.6,10.4,12.4, 11.4,10.8,10.6,11.6, 10.4,9.8,9.6,10.2],
    [5.4,5.2,6.7,8.5,6.9,6.9,7.4,8.5,7.3,4.9,1.9,4.6,7.3,4.6,2.6,3.4,2.4,2.8,2.1,2.6,1.0,0.4,-1.2,0.8, -1.4,0.0,1.2,-0.3, -1.9,-3.5,-4.6,-2.0, -3.6,-5.0,-5.6,-2.6, -4.0,-5.4,-6.0,-3.0, -4.4,-5.8,-6.2,-3.2, -4.8,-5.8,-6.0,-3.0, -5.0,-6.4,-7.2,-4.0, -6.0,-7.6,-8.0,-5.0, -6.2,-7.8,-8.2,-4.6],
    [5.6,5.4,6.9,8.6,7.0,7.1,7.6,8.7,7.6,5.5,3.8,5.5,8.0,5.6,4.0,4.6,3.5,3.8,3.4,3.8,2.4,2.0,1.2,2.4, 1.0,1.4,2.6,3.6, 2.0,1.0,0.8,3.8, 2.0,1.2,1.0,3.8, 2.2,1.0,0.6,3.4, 1.8,0.6,0.2,3.2, 1.6,0.4,0.0,3.0, 1.2,0.0,-0.6,2.8, 1.4,0.2,-0.4,2.6, 1.0,-0.2,-0.8,2.2],
    [5.8,5.5,7.0,8.7,7.1,7.2,7.7,8.8,7.7,5.6,3.6,5.5,8.2,5.6,3.8,4.7,3.6,3.9,3.4,3.8,2.4,2.0,1.1,2.5, 1.2,2.4,1.0,2.0, 0.2,-1.0,-1.4,1.6, 0.0,-1.2,-1.6,1.8, 0.6,-0.6,-0.8,2.6, 1.4,0.4,0.2,3.8, 2.6,1.6,1.2,4.6, 3.0,2.0,1.4,4.8, 3.0,1.8,1.0,4.2, 2.2,0.8,0.2,3.4],
    [5.6,5.3,6.9,8.6,7.0,7.1,7.6,8.7,7.5,5.4,3.4,5.3,7.9,5.4,3.7,4.4,3.2,3.4,3.0,3.5,2.0,1.7,0.8,2.2, 0.4,2.0,4.0,3.2, 5.0,6.6,4.8,6.0, 3.4,2.2,3.8,5.0, 3.0,1.4,2.6,4.2, 2.2,3.6,1.8,5.2, 3.8,2.0,4.4,6.4, 5.0,3.2,1.6,4.0, 2.4,0.8,2.2,5.8, 4.2,2.6,0.8,3.0],
    [5.8,5.6,7.0,8.7,7.1,7.2,7.7,8.8,7.6,5.6,3.7,5.6,8.2,5.8,4.2,4.8,3.7,4.0,3.6,4.0,2.7,2.4,1.6,2.8, 2.0,3.0,1.2,0.2, -1.2,-0.4,1.8,4.2, 2.6,3.8,2.0,5.4, 6.8,5.2,3.4,4.8, 2.6,1.0,-0.6,1.8, 0.2,1.6,3.2,2.0, 0.6,-1.2,0.4,2.6, 4.0,2.4,3.6,5.2, 3.6,1.8,3.0,4.6],
    [5.5,5.3,6.8,8.5,6.9,7.0,7.5,8.6,7.4,5.2,3.0,5.1,7.7,5.2,3.3,4.1,3.0,3.2,2.8,3.3,1.7,1.4,0.3,1.7, 0.0,-1.0,0.6,1.8, -0.2,1.4,3.6,2.2, 0.4,-1.4,-2.6,-0.8, -2.0,-0.6,1.2,2.8, 1.0,-0.8,-2.2,0.2, -1.6,-3.0,-1.4,1.0, -0.6,-2.4,-3.8,-1.6, -3.2,-1.8,-3.6,-0.6, -2.2,-4.0,-2.6,0.4],
    [5.9,5.6,7.1,8.7,7.2,7.3,7.8,8.9,7.8,5.8,4.0,5.7,8.4,5.9,4.3,5.1,4.0,4.3,3.7,4.2,2.9,2.6,1.9,3.2, 2.6,4.2,6.4,8.6, 7.4,9.4,10.2,8.6, 7.0,8.8,7.6,9.8, 8.2,6.6,7.8,9.4, 7.6,6.0,4.8,6.8, 5.6,7.2,5.8,8.2, 6.4,4.8,6.2,7.8, 6.0,7.6,9.0,10.4, 8.8,7.2,8.6,9.6],
    [5.4,5.2,6.7,8.5,6.9,6.9,7.4,8.5,7.3,5.1,2.7,4.9,7.5,5.0,3.1,3.7,2.7,3.0,2.5,3.0,1.3,0.9,-0.5,1.2, -0.8,-2.2,-1.0,0.8, 0.4,-1.2,-2.4,-3.8, -2.4,-4.4,-3.0,-1.6, -3.2,-2.0,-3.8,-1.2, -0.2,-1.6,-0.4,1.4, -0.8,-2.2,-3.4,-1.8, -2.8,-1.2,-2.6,0.2, -1.6,-3.4,-5.0,-2.2, -4.0,-5.6,-3.8,-1.8],
    [5.7,5.5,6.9,8.6,7.0,7.2,7.6,8.7,7.6,5.5,3.5,5.4,8.1,5.5,3.8,4.6,3.5,3.8,3.3,3.7,2.2,1.9,1.0,2.4, 1.4,2.6,4.6,6.4, 8.0,6.2,4.4,5.6, 3.8,4.8,2.8,4.4, 2.2,3.4,1.6,3.6, 4.8,6.2,4.6,7.2, 5.6,4.0,2.6,4.4, 3.0,4.6,3.2,5.4, 3.8,2.2,1.0,3.4, 1.6,0.4,1.8,4.2],
    [5.6,5.4,6.9,8.6,7.0,7.1,7.6,8.7,7.5,5.3,3.2,5.3,8.0,5.4,3.6,4.3,3.3,3.6,3.1,3.6,2.0,1.7,0.6,2.0, 0.6,-0.6,1.0,2.8, 1.4,0.2,2.2,1.0, -0.4,0.8,-1.0,1.6, 0.2,-1.2,0.6,2.4, 3.6,2.0,0.8,3.8, 2.2,0.6,-0.8,1.2, -0.2,1.4,2.8,4.6, 3.0,1.6,0.2,2.0, 0.6,-1.0,-2.4,-0.6],
    [6.0,5.8,7.1,8.8,7.2,7.4,7.9,9.0,7.9,6.0,4.2,5.9,8.8,6.2,4.4,5.6,4.4,4.8,4.1,4.5,3.3,3.0,2.3,3.6, 2.8,1.6,3.0,4.8, 3.2,2.0,0.8,2.8, 4.6,6.0,4.4,7.2, 5.8,4.2,5.6,7.6, 6.2,4.6,3.2,5.6, 4.4,2.8,1.4,3.8, 2.4,3.8,5.2,7.6, 6.0,4.4,2.8,5.0, 3.4,5.0,6.6,8.2]
];


/**
 * Draws the three stacked ensemble panels (neerslag, wind, temperatuur)
 */
var PluimCharts = function() {

    var width = 800;
    var panelHeight = 400;

    /**
     * Plot area inside every panel
     *
     * @type {Object}
     */
    var plot = {left: 50, right: 749, top: 64.5, bottom: 321};

    var colors = {
        control: '#000000',
        hres: '#ff0000',
        median: '#a52a2a',
        runs: '#008000',
        border: '#9dbdf0',
        band: '#f2f2f2',
        grid: '#e6e6e6',
        axis: '#ccd6eb'
    };

    var svg = null;

    return {

        init: function() {

            svg = d3.select('#chart').append('svg')
                .attr('width', width)
                .attr('height', 1200);

            var panels = [
                {title: 'Neerslag (mm, 6 uurlijks)', yDomain: [0, 12], yTicks: d3.range(0, 13, 2),
                    xDomain: [-0.375, 14.625], control: precipControl, hres: precipHres, median: precipMedian, runs: precipRuns},
                {title: 'Windsnelheid (m/sec)', yDomain: [0, 15], yTicks: [0, 5, 10, 15],
                    xDomain: [-0.375, 14.625], control: windControl, hres: windHres, median: windMedian, runs: windRuns},
                {title: 'Temperatuur (\u00B0C)', yDomain: [-10, 15], yTicks: [-10, -5, 0, 5, 10, 15],
                    xDomain: [-0.896, 14.64], control: tempControl, hres: tempHres, median: tempMedian, runs: tempRuns, zeroLine: true}
            ];

            panels.forEach(function(p, i) {
                this.drawPanel(p, i);
            }, this);
        },

        drawPanel: function(p, idx) {

            var g = svg.append('g').attr('transform', 'translate(0,' + (idx * panelHeight) + ')');

            g.append('rect')
                .attr('x', 0.5).attr('y', 0.5)
                .attr('width', width - 2).attr('height', panelHeight - 2.5)
                .attr('fill', '#fff')
                .attr('stroke', colors.border);

            var x = d3.scaleLinear().domain(p.xDomain).range([plot.left, plot.right]);
            var y = d3.scaleLinear().domain(p.yDomain).range([plot.bottom, plot.top]);

            // titles
            g.append('text')
                .attr('x', width / 2).attr('y', 24)
                .attr('text-anchor', 'middle')
                .attr('fill', '#333').attr('font-size', '18px')
                .text(p.title);
            g.append('text')
                .attr('x', width / 2).attr('y', 48)
                .attr('text-anchor', 'middle')
                .attr('fill', '#666').attr('font-size', '12px')
                .text('De Bilt, maandag 4 december 2017 (Versie ma 12 uur)');

            // alternating day bands
            var bandDays = d3.range(0, dayNames.length, 2);
            g.selectAll('rect.band')
                .data(bandDays)
                .enter()
                .append('rect')
                .attr('class', 'band')
                .attr('x', function(d) { return x(d); })
                .attr('y', plot.top)
                .attr('width', function(d) { return Math.min(x(d + 1), plot.right) - x(d); })
                .attr('height', plot.bottom - plot.top)
                .attr('fill', colors.band);

            // horizontal grid
            g.selectAll('line.grid')
                .data(p.yTicks)
                .enter()
                .append('line')
                .attr('class', 'grid')
                .attr('x1', plot.left).attr('x2', plot.right)
                .attr('y1', function(d) { return Math.round(y(d)) + 0.5; })
                .attr('y2', function(d) { return Math.round(y(d)) + 0.5; })
                .attr('stroke', function(d) { return d === p.yDomain[0] ? 'none' : colors.grid; });

            // y axes, left and right
            var yLeft = d3.axisLeft(y).tickValues(p.yTicks).tickSize(0).tickPadding(0);
            var yRight = d3.axisRight(y).tickValues(p.yTicks).tickSize(0).tickPadding(0);

            var gl = g.append('g').attr('transform', 'translate(36,0)').call(yLeft);
            var gr = g.append('g').attr('transform', 'translate(765,0)').call(yRight);
            [gl, gr].forEach(function(a) {
                a.select('.domain').remove();
                a.selectAll('text')
                    .attr('fill', '#666')
                    .attr('font-size', '11px')
                    .attr('font-family', '"Liberation Sans", Arial, sans-serif');
            });

            // x axis with day ticks
            var xAxis = d3.axisBottom(x)
                .tickValues(d3.range(dayNames.length))
                .tickSize(10)
                .tickFormat('');
            var ga = g.append('g')
                .attr('transform', 'translate(0,' + plot.bottom + ')')
                .call(xAxis);
            ga.select('.domain')
                .attr('d', 'M' + plot.left + ',0.5H' + plot.right)
                .attr('stroke', colors.axis);
            ga.selectAll('.tick line').attr('stroke', colors.axis);

            var labels = g.selectAll('text.day')
                .data(d3.range(dayNames.length))
                .enter()
                .append('text')
                .attr('class', 'day')
                .attr('x', function(d) { return x(d); })
                .attr('fill', '#666')
                .attr('font-size', '11.5px');
            labels.append('tspan')
                .attr('x', function(d) { return x(d); })
                .attr('y', 340)
                .text(function(d) { return dayNames[d]; });
            labels.append('tspan')
                .attr('x', function(d) { return x(d); })
                .attr('y', 354)
                .text(function(d) { return dayDates[d]; });

            // series
            var clipId = 'clip' + idx;
            g.append('clipPath').attr('id', clipId)
                .append('rect')
                .attr('x', plot.left).attr('y', plot.top - 2)
                .attr('width', plot.right - plot.left).attr('height', plot.bottom - plot.top + 4);

            var series = g.append('g').attr('clip-path', 'url(#' + clipId + ')');

            var line = d3.line()
                .defined(function(d) { return d != null; })
                .x(function(d, i) { return x(stepDays[i]); })
                .y(function(d) { return y(d); });

            if (p.zeroLine) {
                series.append('line')
                    .attr('x1', 56).attr('x2', x(stepDays[stepDays.length - 1]))
                    .attr('y1', Math.round(y(0)) + 0.5).attr('y2', Math.round(y(0)) + 0.5)
                    .attr('stroke', '#666').attr('stroke-width', 1);
            }

            series.selectAll('path.run')
                .data(p.runs)
                .enter()
                .append('path')
                .attr('class', 'run')
                .attr('d', line)
                .attr('fill', 'none')
                .attr('stroke', colors.runs)
                .attr('stroke-opacity', 0.5)
                .attr('stroke-width', 1);

            series.append('path')
                .attr('d', line(p.median))
                .attr('fill', 'none')
                .attr('stroke', colors.median)
                .attr('stroke-width', 2)
                .attr('stroke-dasharray', '8,6');

            series.append('path')
                .attr('d', line(p.hres))
                .attr('fill', 'none')
                .attr('stroke', colors.hres)
                .attr('stroke-width', 2.5)
                .attr('stroke-linejoin', 'round');

            series.append('path')
                .attr('d', line(p.control))
                .attr('fill', 'none')
                .attr('stroke', colors.control)
                .attr('stroke-width', 2.5)
                .attr('stroke-dasharray', '8,6');

            this.drawLegend(g);

            g.append('text')
                .attr('x', 790).attr('y', 394)
                .attr('text-anchor', 'end')
                .attr('fill', '#999').attr('font-size', '9.4px')
                .text('Bron: ECMWF/KNMI');
        },

        drawLegend: function(g) {

            var symbols = [
                {color: colors.control, dash: '6,4'},
                {color: colors.hres, dash: null},
                {color: colors.median, dash: '6,4'},
                {color: colors.runs, dash: null}
            ];

            var lg = g.append('g');
            var pos = 0;

            legendLabels.forEach(function(label, i) {
                var item = lg.append('g').attr('transform', 'translate(' + pos + ',0)');
                item.append('line')
                    .attr('x1', 0).attr('x2', 16)
                    .attr('y1', 378).attr('y2', 378)
                    .attr('stroke', symbols[i].color)
                    .attr('stroke-width', 2.5)
                    .attr('stroke-dasharray', symbols[i].dash);
                var t = item.append('text')
                    .attr('x', 21).attr('y', 382)
                    .attr('fill', '#333').attr('font-size', '12px')
                    .text(label);
                pos += 21 + t.node().getComputedTextLength() + 13;
            });

            var total = pos - 13;
            lg.attr('transform', 'translate(' + (width / 2 - total / 2) + ',0)');
        }
    };
}();

PluimCharts.init();
</script>
</body>
</html>
